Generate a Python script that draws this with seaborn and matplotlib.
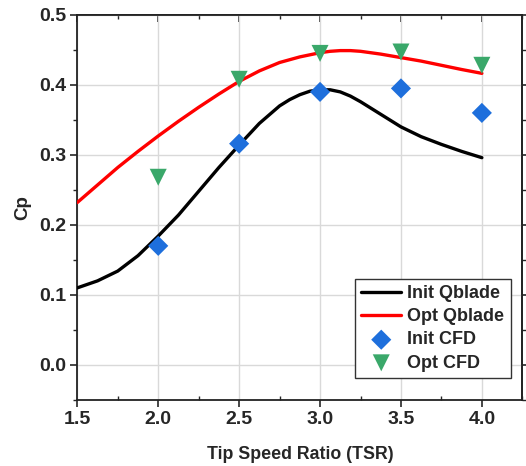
import numpy as np
import pandas as pd
import matplotlib
matplotlib.use("Agg")
import matplotlib.pyplot as plt
import seaborn as sns
from matplotlib.ticker import MultipleLocator

# Qblade curves
tsr_curve = [1.5, 1.625, 1.75, 1.875, 2.0, 2.125, 2.25, 2.375, 2.5, 2.625, 2.75, 2.8125,
             2.875, 2.9375, 3.0, 3.0625, 3.125, 3.1875, 3.25, 3.375, 3.5, 3.625, 3.75,
             3.875, 4.0]
init_qblade = [0.110, 0.120, 0.134, 0.156, 0.184, 0.214, 0.248, 0.282, 0.314, 0.345, 0.370, 0.379,
               0.386, 0.391, 0.393, 0.393, 0.390, 0.384, 0.376, 0.358, 0.340, 0.326, 0.315,
               0.305, 0.296]
opt_qblade = [0.232, 0.257, 0.282, 0.305, 0.327, 0.348, 0.368, 0.387, 0.405, 0.420, 0.432, 0.436,
              0.440, 0.443, 0.446, 0.448, 0.449, 0.449, 0.448, 0.444, 0.439, 0.434, 0.428,
              0.422, 0.4165]

# CFD points
tsr_cfd = [2.0, 2.5, 3.0, 3.5, 4.0]
init_cfd = [0.170, 0.316, 0.390, 0.395, 0.360]
opt_cfd = [0.268, 0.408, 0.445, 0.447, 0.428]

sns.set_style("ticks")
plt.rcParams['font.family'] = ['Liberation Sans', 'DejaVu Sans']
plt.rcParams['font.weight'] = 'bold'

fig = plt.figure(figsize=(5.26, 4.66), dpi=100)
ax = fig.add_axes([0.147, 0.142, 0.846, 0.826])

ax.grid(True, color='#d9d9d9', linewidth=1.0, zorder=0)
ax.set_axisbelow(True)

sns.lineplot(x=tsr_curve, y=init_qblade, ax=ax, color='black', linewidth=2.4,
             label='Init Qblade', zorder=3)
sns.lineplot(x=tsr_curve, y=opt_qblade, ax=ax, color='#ff0000', linewidth=2.4,
             label='Opt Qblade', zorder=3)
sns.scatterplot(x=tsr_cfd, y=init_cfd, ax=ax, color='#1e6fdc', marker='D', s=105,
                edgecolor='none', label='Init CFD', zorder=4)
sns.scatterplot(x=tsr_cfd, y=opt_cfd, ax=ax, color='#3aa86a', marker='v', s=150,
                edgecolor='none', label='Opt CFD', zorder=4)

ax.set_xlim(1.5, 4.25)
ax.set_ylim(-0.05, 0.5)
ax.xaxis.set_major_locator(MultipleLocator(0.5))
ax.xaxis.set_minor_locator(MultipleLocator(0.25))
ax.yaxis.set_major_locator(MultipleLocator(0.1))
ax.yaxis.set_minor_locator(MultipleLocator(0.05))
ax.set_xticks([1.5, 2.0, 2.5, 3.0, 3.5, 4.0])
ax.set_yticks([0.0, 0.1, 0.2, 0.3, 0.4, 0.5])
ax.set_xticklabels(['1.5', '2.0', '2.5', '3.0', '3.5', '4.0'])
ax.set_yticklabels(['0.0', '0.1', '0.2', '0.3', '0.4', '0.5'])

for s in ax.spines.values():
    s.set_visible(True)
    s.set_linewidth(1.3)
    s.set_color('#222222')

ax.tick_params(axis='both', which='major', direction='out', length=5, width=1.2,
               labelsize=14, pad=3)
ax.tick_params(axis='x', which='minor', direction='in', length=3, width=1.0)
ax.tick_params(axis='y', which='minor', direction='out', length=3, width=1.0)
ax.tick_params(top=False, right=False, which='both')
for lab in ax.get_xticklabels() + ax.get_yticklabels():
    lab.set_fontweight('bold')

# top axis: ticks inward
top = ax.secondary_xaxis('top')
top.xaxis.set_major_locator(MultipleLocator(0.5))
top.xaxis.set_minor_locator(MultipleLocator(0.25))
top.tick_params(which='major', direction='in', length=5, width=1.2, labeltop=False)
top.tick_params(which='minor', direction='in', length=3, width=1.0)
top.spines['top'].set_linewidth(1.3)
top.spines['top'].set_color('#222222')

# right axis: ticks outward
right = ax.secondary_yaxis('right')
right.yaxis.set_major_locator(MultipleLocator(0.1))
right.yaxis.set_minor_locator(MultipleLocator(0.05))
right.tick_params(which='major', direction='out', length=5, width=1.2, labelright=False)
right.tick_params(which='minor', direction='out', length=3, width=1.0)
right.spines['right'].set_linewidth(1.3)
right.spines['right'].set_color('#222222')

ax.set_xlabel('Tip Speed Ratio (TSR)', fontsize=12.8, fontweight='bold', labelpad=13)
ax.set_ylabel('Cp', fontsize=13.5, fontweight='bold', labelpad=6)

leg = ax.legend(loc='lower right', bbox_to_anchor=(0.974, 0.057), frameon=True,
                fancybox=False, edgecolor='#333333', framealpha=1,
                prop={'weight': 'bold', 'size': 13}, handlelength=2.2,
                borderpad=0.35, labelspacing=0.34, handletextpad=0.35, borderaxespad=0)
leg.get_frame().set_linewidth(1.0)

fig.savefig('out.png', dpi=100)
